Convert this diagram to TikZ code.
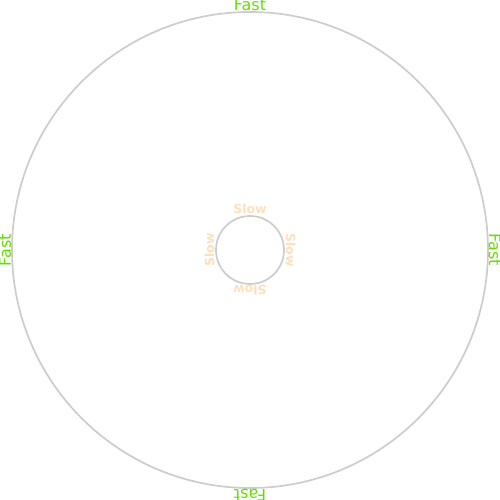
\documentclass[tikz,border=0pt]{standalone}
\usepackage{fontspec}
\setmainfont{DejaVu Sans}
\definecolor{rimgray}{RGB}{204,204,204}
\definecolor{fastgreen}{RGB}{102,221,0}
\definecolor{slowpeach}{RGB}{253,224,186}
\tikzset{
  rim/.style={draw=rimgray,line width=1.7pt},
  fastlabel/.style={text=fastgreen,font=\fontsize{16}{19}\selectfont,anchor=base,inner sep=0pt},
  slowlabel/.style={text=slowpeach,font=\bfseries\fontsize{12.5}{15}\selectfont,anchor=base,inner sep=0pt},
}
\begin{document}
\begin{tikzpicture}[x=1pt,y=1pt]
\useasboundingbox (-250,-250) rectangle (250,250);
% disc edges
\draw[rim] (0,0) circle (238);
\draw[rim] (0,0) circle (34);
% outer labels
\foreach \a/\n in {90/top,0/right,-90/bottom,180/left}
  \node[fastlabel,rotate=\a-90] (fast-\n) at (\a:239) {Fast};
% inner labels round the hub
\foreach \a/\n in {90/top,0/right,-90/bottom,180/left}
  \node[slowlabel,rotate=\a-90] (slow-\n) at (\a:36) {Slow};
\end{tikzpicture}
\end{document}
